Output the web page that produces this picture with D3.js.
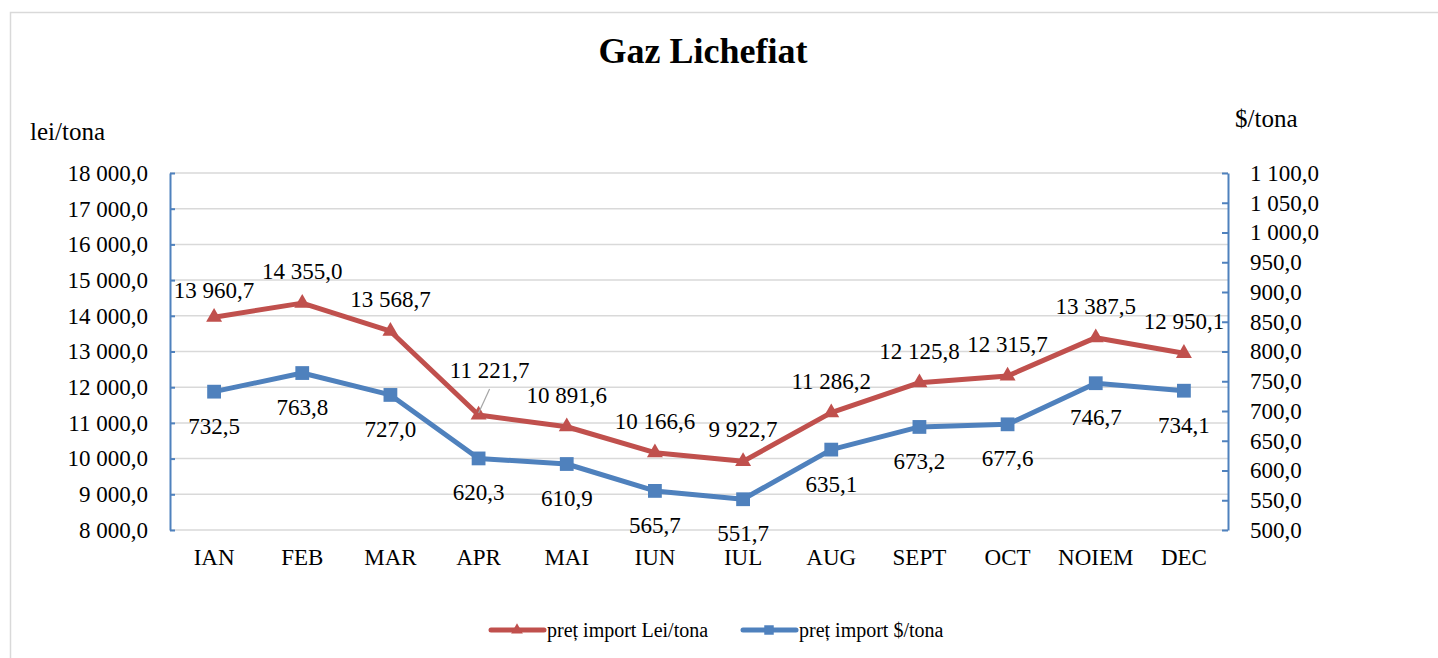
<!DOCTYPE html>
<html>
<head>
<meta charset="utf-8">
<script src="https://cdn.jsdelivr.net/npm/d3@7"></script>
<style>
  body { margin: 0; background: #fff; }
  svg text { font-family: "Liberation Serif", "Times New Roman", serif; fill: #000; }
</style>
</head>
<body>
<svg id="chart" width="1438" height="658"></svg>
<script>
// data
var months = ["IAN", "FEB", "MAR", "APR", "MAI", "IUN", "IUL", "AUG", "SEPT", "OCT", "NOIEM", "DEC"];
var leiValues = [13960.7, 14355.0, 13568.7, 11221.7, 10891.6, 10166.6, 9922.7, 11286.2, 12125.8, 12315.7, 13387.5, 12950.1];
var usdValues = [732.5, 763.8, 727.0, 620.3, 610.9, 565.7, 551.7, 635.1, 673.2, 677.6, 746.7, 734.1];
var leiTicks = [8000, 9000, 10000, 11000, 12000, 13000, 14000, 15000, 16000, 17000, 18000];
var usdTicks = [500, 550, 600, 650, 700, 750, 800, 850, 900, 950, 1000, 1050, 1100];
var seriesNames = ["preț import Lei/tona", "preț import $/tona"];

var RED = "#c0504d", BLUE = "#4f81bd", GRID = "#d9d9d9";

var svg = d3.select("#chart");

// outer frame (runs off the bottom/right of the window)
svg.append("rect")
  .attr("x", 10.5).attr("y", 12.5)
  .attr("width", 1440).attr("height", 700)
  .attr("fill", "none").attr("stroke", GRID).attr("stroke-width", 1.5);

var plotL = 170, plotR = 1228, plotT = 173, plotB = 530;

var x = d3.scaleBand().domain(months).range([plotL, plotR]);
var cx = d => x(d) + x.bandwidth() / 2;
var yLei = d3.scaleLinear().domain([8000, 18000]).range([plotB, plotT]);
var yUsd = d3.scaleLinear().domain([500, 1100]).range([plotB, plotT]);

// number format "13 960,7"
var fmt = v => d3.format(",.1f")(v).replace(/,/g, " ").replace(".", ",");

// title
svg.append("text")
  .attr("x", 703).attr("y", 63)
  .attr("text-anchor", "middle")
  .style("font-size", "36px").style("font-weight", "bold")
  .text("Gaz Lichefiat");

svg.append("text").attr("x", 30).attr("y", 140).style("font-size", "25px").text("lei/tona");
svg.append("text").attr("x", 1235).attr("y", 127).style("font-size", "25px").text("$/tona");

// gridlines
svg.append("g").selectAll("line")
  .data(leiTicks)
  .enter().append("line")
    .attr("x1", plotL).attr("x2", plotR)
    .attr("y1", d => yLei(d)).attr("y2", d => yLei(d))
    .attr("stroke", GRID).attr("stroke-width", 1.5);

// left axis
var gl = svg.append("g")
  .attr("transform", "translate(" + plotL + ",0)")
  .call(d3.axisLeft(yLei).tickValues(leiTicks).tickFormat(fmt).tickSizeInner(-5).tickSizeOuter(0).tickPadding(22));
gl.select(".domain").attr("stroke", BLUE).attr("stroke-width", 2);
gl.selectAll(".tick line").attr("stroke", BLUE).attr("stroke-width", 2);
gl.selectAll("text").style("font-size", "23px").attr("fill", "#000").attr("font-family", null);

// right axis
var gr = svg.append("g")
  .attr("transform", "translate(" + plotR + ",0)")
  .call(d3.axisRight(yUsd).tickValues(usdTicks).tickFormat(fmt).tickSizeInner(-6).tickSizeOuter(0).tickPadding(22));
gr.select(".domain").attr("stroke", BLUE).attr("stroke-width", 2);
gr.selectAll(".tick line").attr("stroke", BLUE).attr("stroke-width", 2);
gr.selectAll("text").style("font-size", "23px").attr("fill", "#000").attr("font-family", null);

// category labels
svg.append("g").selectAll("text")
  .data(months)
  .enter().append("text")
    .attr("x", d => cx(d)).attr("y", 565)
    .attr("text-anchor", "middle")
    .style("font-size", "23px")
    .text(d => d);

var tri = d3.symbol().type(d3.symbolTriangle).size(110);
var sq = d3.symbol().type(d3.symbolSquare).size(190);

function drawSeries(values, y, color, symbol) {
  var line = d3.line().x((d, i) => cx(months[i])).y(d => y(d));
  svg.append("path")
    .datum(values)
    .attr("d", line)
    .attr("fill", "none").attr("stroke", color)
    .attr("stroke-width", 5).attr("stroke-linejoin", "round");
  svg.append("g").selectAll("path")
    .data(values)
    .enter().append("path")
      .attr("d", symbol)
      .attr("fill", color)
      .attr("transform", (d, i) => "translate(" + cx(months[i]) + "," + y(d) + ")");
}

drawSeries(usdValues, yUsd, BLUE, sq);
drawSeries(leiValues, yLei, RED, tri);

// data labels: red above, blue below; a few nudged like the original
var leiNudge = { IAN: [0, 5], APR: [11, -13] };
svg.append("g").selectAll("text")
  .data(leiValues)
  .enter().append("text")
    .attr("x", (d, i) => cx(months[i]) + (leiNudge[months[i]] || [0, 0])[0])
    .attr("y", (d, i) => yLei(d) - 24 + (leiNudge[months[i]] || [0, 0])[1])
    .attr("text-anchor", "middle")
    .style("font-size", "23px")
    .text(fmt);

// leader line for the APR label
var iApr = months.indexOf("APR");
svg.append("line")
  .attr("x1", cx("APR")).attr("y1", yLei(leiValues[iApr]) - 2)
  .attr("x2", cx("APR") + 11).attr("y2", yLei(leiValues[iApr]) - 26)
  .attr("stroke", "#a6a6a6").attr("stroke-width", 1.2);

svg.append("g").selectAll("text")
  .data(usdValues)
  .enter().append("text")
    .attr("x", (d, i) => cx(months[i]))
    .attr("y", d => yUsd(d) + 42)
    .attr("text-anchor", "middle")
    .style("font-size", "23px")
    .text(fmt);

// legend
var legend = svg.append("g");
var legendItems = [
  { name: seriesNames[0], color: RED, symbol: d3.symbol().type(d3.symbolTriangle).size(60), x: 491 },
  { name: seriesNames[1], color: BLUE, symbol: d3.symbol().type(d3.symbolSquare).size(90), x: 743 }
];
legendItems.forEach(it => {
  legend.append("line")
    .attr("x1", it.x).attr("x2", it.x + 53)
    .attr("y1", 630).attr("y2", 630)
    .attr("stroke", it.color).attr("stroke-width", 5).attr("stroke-linecap", "round");
  legend.append("path")
    .attr("d", it.symbol)
    .attr("fill", it.color)
    .attr("transform", "translate(" + (it.x + 26) + ",630)");
  legend.append("text")
    .attr("x", it.x + 56).attr("y", 637)
    .style("font-size", "20px")
    .text(it.name);
});
</script>
</body>
</html>
